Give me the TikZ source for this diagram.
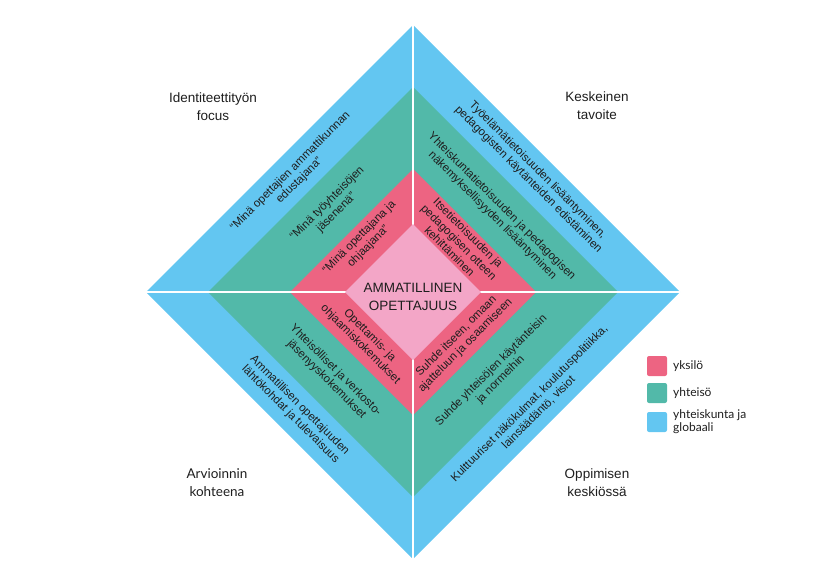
\documentclass[tikz,border=0pt]{standalone}
\usepackage{fontspec}
\setmainfont{Liberation Sans}
\newfontfamily\gillfont{Lato}
\definecolor{cblue}{HTML}{63C6F1}
\definecolor{cgreen}{HTML}{52B9A9}
\definecolor{cpink}{HTML}{ED6482}
\definecolor{ccenter}{HTML}{F3A6C7}
\definecolor{ctext}{HTML}{1E1E1E}
\begin{document}
\begin{tikzpicture}[x=1pt,y=-1pt,
  bandtext/.style={align=center, inner sep=0pt, text=ctext, font=\fontsize{11.5}{13}\selectfont},
  cornertext/.style={align=center, inner sep=0pt, text=ctext, font=\fontsize{13.5}{18}\selectfont},
  gilltext/.style={align=center, inner sep=0pt, text=ctext, font=\gillfont\fontsize{13.5}{18}\selectfont},
  legbox/.style={minimum width=20pt, minimum height=20pt, inner sep=0pt, rounded corners=2pt},
  legtext/.style={anchor=west, align=left, inner sep=0pt, text=ctext, font=\gillfont\fontsize{12}{13}\selectfont},
  cross/.style={white, line width=2.2pt}]
\useasboundingbox (0,0) rectangle (825,584);
% layered diamonds
\fill[cblue] (413,25) -- (680,292) -- (413,559) -- (146,292) -- cycle;
\fill[cgreen] (413,87) -- (618,292) -- (413,497) -- (208,292) -- cycle;
\fill[cpink] (413,169) -- (536,292) -- (413,415) -- (290,292) -- cycle;
% white cross
\coordinate (ct) at (413,25);
\coordinate (cb) at (413,559);
\coordinate (cl) at (146,292);
\coordinate (cr) at (680,292);
\draw[cross] (ct) -- (cb);
\draw[cross] (cl) -- (cr);
% centre
\fill[ccenter] (413,224) -- (481,292) -- (413,360) -- (345,292) -- cycle;
\node[cornertext] (centre) at (413,297) {AMMATILLINEN\\OPETTAJUUS};
% top-left
\node[bandtext, rotate=45] (tlb) at (295,176) {“Minä opettajien ammattikunnan\\edustajana”};
\node[bandtext, rotate=45] (tlg) at (332,208) {“Minä työyhteisöjen\\jäsenenä”};
\node[bandtext, rotate=45] (tlp) at (364,242) {“Minä opettajana ja\\ohjaajana”};
% top-right
\node[bandtext, rotate=-45] (trb) at (533,175) {Työelämätietoisuuden lisääntyminen,\\pedagogisten käytänteiden edistäminen};
\node[bandtext, rotate=-45] (trg) at (497,211) {Yhteiskuntatietoisuuden ja pedagogisen\\näkemyksellisyyden lisääntyminen};
\node[bandtext, rotate=-45] (trp) at (459,242) {Itsetietoisuuden ja\\pedagogisen otteen\\kehittäminen};
% bottom-left
\node[bandtext, rotate=-45] (blp) at (365,340) {Opettamis- ja\\ohjaamiskokemukset};
\node[bandtext, rotate=-45] (blg) at (331,375) {Yhteisölliset ja verkosto-\\jäsenyyskokemukset};
\node[bandtext, rotate=-45] (blb) at (295,410) {Ammatillisen opettajuuden\\lähtökohdat ja tulevaisuus};
% bottom-right
\node[bandtext, rotate=45] (brp) at (461,341) {Suhde itseen, omaan\\ajatteluun ja osaamiseen};
\node[bandtext, rotate=45] (brg) at (496,375) {Suhde yhteisöjen käytänteisin\\ja normeihin};
\node[bandtext, rotate=45] (brb) at (534,408) {Kulttuuriset näkökulmat, koulutuspolitiikka,\\lainsäädäntö, visiot};
% corner labels
\node[cornertext] (qtl) at (213,107) {Identiteettityön\\focus};
\node[cornertext] (qtr) at (597,106) {Keskeinen\\tavoite};
\node[gilltext] (qbl) at (217,483) {Arvioinnin\\kohteena};
\node[cornertext] (qbr) at (597,483) {Oppimisen\\keskiössä};
% legend
\node[legbox, fill=cpink] (lp) at (657,366) {};
\node[legbox, fill=cgreen] (lg) at (657,393) {};
\node[legbox, fill=cblue] (lb) at (657,422) {};
\node[legtext] (lpt) at (673,366) {yksilö};
\node[legtext] (lgt) at (673,393) {yhteisö};
\node[legtext] (lbt) at (673,422) {yhteiskunta ja\\globaali};
\end{tikzpicture}
\end{document}
